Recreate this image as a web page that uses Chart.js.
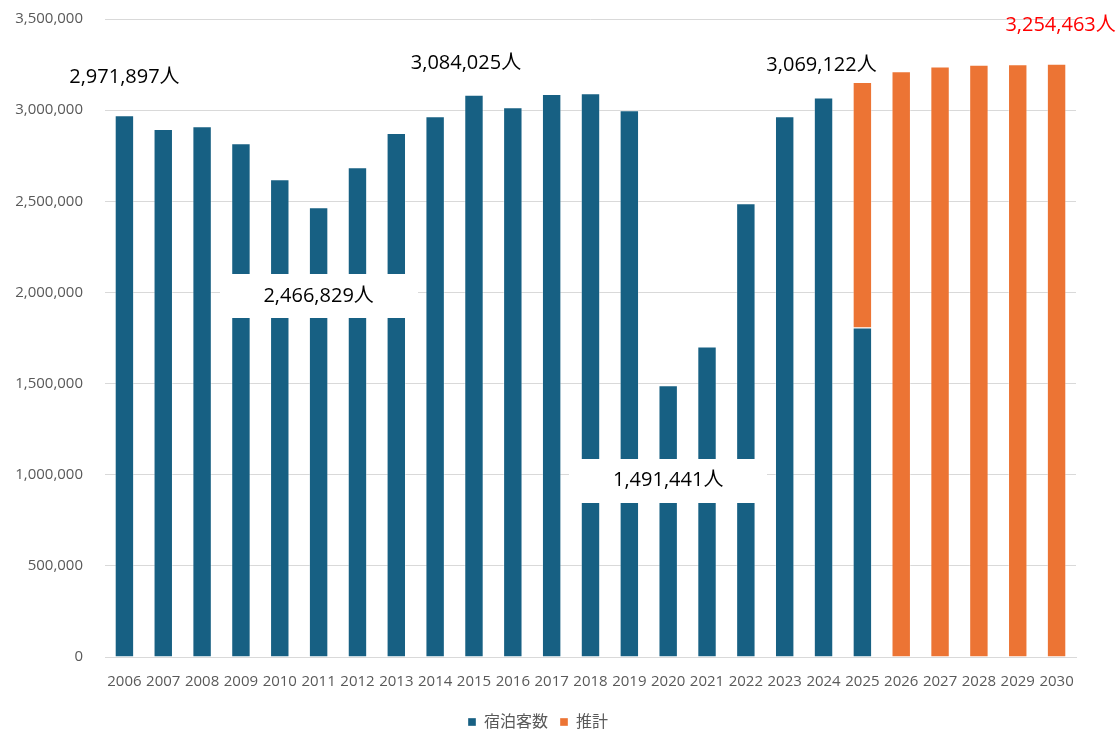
<!DOCTYPE html>
<html>
<head>
<meta charset="utf-8">
<script src="https://cdn.jsdelivr.net/npm/chart.js@4.4.1/dist/chart.umd.min.js"></script>
<style>
  html, body { margin: 0; padding: 0; background: #fff; }
  #wrap { width: 1118px; height: 730px; position: relative; }
</style>
</head>
<body>
<div id="wrap"><canvas id="chart"></canvas></div>
<script>
// Years on the x axis
const years = ['2006', '2007', '2008', '2009', '2010', '2011', '2012', '2013', '2014', '2015',
  '2016', '2017', '2018', '2019', '2020', '2021', '2022', '2023', '2024', '2025',
  '2026', '2027', '2028', '2029', '2030'];

// 宿泊客数 (actual guests)
const guests = [2971897, 2896000, 2912000, 2819000, 2621000, 2466829, 2687000, 2874000, 2967000, 3084025,
  3016000, 3088000, 3093000, 3000000, 1491441, 1703000, 2489000, 2967000, 3069122, 1808000,
  null, null, null, null, null];

// 推計 (estimate) — 2025 stacks on top of the actual part
const estimate = [null, null, null, null, null, null, null, null, null, null,
  null, null, null, null, null, null, null, null, null, 1347000,
  3214000, 3240000, 3249000, 3252000, 3254463];

// Callout labels: text, anchor year, anchor value
const calloutText = ['2,971,897人', '2,466,829人', '3,084,025人', '1,491,441人', '3,069,122人', '3,254,463人'];
const calloutYear = ['2006', '2011', '2015', '2020', '2024', '2030'];
const calloutValue = [3181000, 1978000, 3258000, 967000, 3247000, 3467000];

const FONT = "'Open Sans', 'Noto Sans CJK JP', sans-serif";
const GREY = '#595959';

// which callouts get a white box, their colour and small pixel nudges
const calloutStyle = [
  { box: false, color: '#000', dx: 0 },
  { box: true, color: '#000', dx: 0 },
  { box: false, color: '#000', dx: -8 },
  { box: true, color: '#000', dx: 0 },
  { box: false, color: '#000', dx: -2 },
  { box: false, color: '#ff0000', dx: 4 }
];

const callouts = {
  id: 'callouts',
  afterDatasetsDraw(chart) {
    const { ctx, scales } = chart;
    ctx.save();
    ctx.font = `20px ${FONT}`;
    ctx.textAlign = 'center';
    ctx.textBaseline = 'middle';
    calloutText.forEach((txt, i) => {
      const st = calloutStyle[i];
      const x = scales.x.getPixelForValue(years.indexOf(calloutYear[i])) + st.dx;
      const y = scales.y.getPixelForValue(calloutValue[i]);
      if (st.box) {
        ctx.fillStyle = '#fff';
        ctx.fillRect(Math.round(x - 99), Math.round(y - 22), 198, 44);
      }
      ctx.fillStyle = st.color;
      ctx.fillText(txt, x, y);
    });
    ctx.restore();
  }
};

new Chart(document.getElementById('chart'), {
  type: 'bar',
  data: {
    labels: years,
    datasets: [
      {
        label: '宿泊客数',
        data: guests,
        backgroundColor: '#176083',
        borderColor: 'rgba(255,255,255,0.35)',
        borderWidth: 1,
        categoryPercentage: 1,
        barPercentage: 0.5
      },
      {
        label: '推計',
        data: estimate,
        backgroundColor: '#ec7434',
        borderColor: 'rgba(255,255,255,0.35)',
        borderWidth: 1,
        categoryPercentage: 1,
        barPercentage: 0.5
      }
    ]
  },
  options: {
    responsive: true,
    maintainAspectRatio: false,
    animation: false,
    layout: { padding: { top: 19, right: 42, left: 0, bottom: 0 } },
    plugins: {
      legend: {
        position: 'bottom',
        maxHeight: 28,
        labels: {
          font: { family: FONT, size: 16 },
          color: GREY,
          boxWidth: 8,
          boxHeight: 8,
          padding: 12
        }
      },
      tooltip: { enabled: false }
    },
    scales: {
      x: {
        stacked: true,
        grid: { display: false, drawTicks: false },
        border: { display: true, color: '#d9d9d9' },
        ticks: {
          color: GREY,
          font: { family: FONT, size: 15 },
          padding: 16,
          maxRotation: 0,
          autoSkip: false
        },
        afterFit(scale) { scale.height = 45; }
      },
      y: {
        stacked: true,
        min: 0,
        max: 3500000,
        grid: { color: '#d9d9d9', drawTicks: true, tickLength: 22, tickColor: 'rgba(0,0,0,0)' },
        border: { display: false },
        ticks: {
          stepSize: 500000,
          color: GREY,
          font: { family: FONT, size: 15 },
          padding: 0,
          callback: (v) => v.toLocaleString('en-US')
        },
        afterFit(scale) { scale.width = 105; }
      }
    }
  },
  plugins: [callouts]
});
</script>
</body>
</html>
